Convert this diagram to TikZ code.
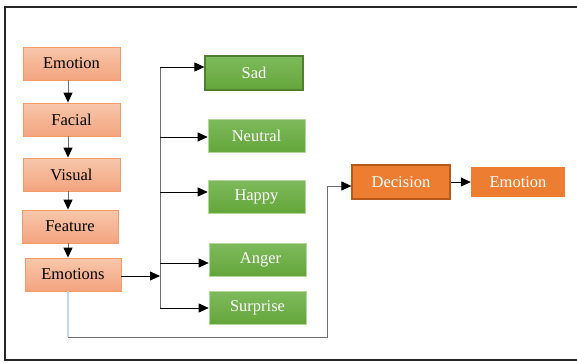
\documentclass[tikz,border=0pt]{standalone}
\usepackage{fontspec}
\setmainfont{Liberation Serif}
\newfontfamily\tnr{Liberation Serif}
\usetikzlibrary{arrows.meta}
\definecolor{salmonT}{HTML}{F8C7AC}
\definecolor{salmonB}{HTML}{F3A47E}
\definecolor{salmonD}{HTML}{F29B66}
\definecolor{greenT}{HTML}{7EBA5C}
\definecolor{greenB}{HTML}{64A63A}
\definecolor{greenD}{HTML}{4F8030}
\definecolor{orangeF}{HTML}{ED7D31}
\definecolor{orangeD}{HTML}{B35A1C}
\definecolor{fbblue}{HTML}{BDD7EE}
\definecolor{linegray}{HTML}{6E6E6E}
\tikzset{
  txt/.style={font=\tnr\fontsize{16.5}{19}\selectfont, inner sep=0pt},
  salmonbox/.style={txt, draw=salmonD, line width=0.8pt, top color=salmonT, bottom color=salmonB, text=black},
  greenbox/.style={txt, draw=greenT!60!white, line width=0.6pt, top color=greenT, bottom color=greenB, text=white},
  orangebox/.style={txt, fill=orangeF, text=white},
  arr/.style={draw=black, line width=0.8pt, -{Triangle[length=10pt,width=9pt]}},
  garr/.style={draw=linegray, line width=1pt, arrows={-{Triangle[length=10pt,width=9pt,color=black]}}},
  conn/.style={draw=linegray, line width=0.9pt}
}
\begin{document}
\begin{tikzpicture}[x=1pt,y=-1pt]
\useasboundingbox (0,0) rectangle (577,362);
% outer frame
\draw[line width=1.8pt, black!85] (580,7) -- (5,7) -- (5,360) -- (580,360);
% left column
\node[salmonbox, minimum width=97pt, minimum height=33pt] (emo) at (71.5,63.5) {Emotion};
\node[salmonbox, minimum width=97pt, minimum height=33pt] (fac) at (71.5,119.5) {Facial};
\node[salmonbox, minimum width=97pt, minimum height=33pt] (vis) at (71.5,174.5) {Visual};
\node[salmonbox, minimum width=96pt, minimum height=33pt] (fea) at (70,226.5) {Feature};
\node[salmonbox, minimum width=96pt, minimum height=33pt] (emos) at (73,274.5) {Emotions};
% green column
\node[greenbox, draw=greenD, line width=1.2pt, minimum width=98pt, minimum height=34pt] (sad) at (254,73) {Sad};
\node[greenbox, minimum width=97pt, minimum height=33pt] (neu) at (256.5,135.5) {Neutral};
\node[greenbox, minimum width=97pt, minimum height=33pt] (hap) at (256.5,196.5) {Happy};
\node[greenbox, minimum width=97pt, minimum height=33pt] (ang) at (257.5,259.5) {\hspace{6pt}Anger};
\node[greenbox, minimum width=97pt, minimum height=33pt] (sur) at (257.5,307.5) {Surprise};
% right
\node[orangebox, draw=orangeD, line width=1.2pt, minimum width=98pt, minimum height=34pt] (dec) at (401,182) {Decision};
\node[orangebox, minimum width=94pt, minimum height=30pt] (emo2) at (518,182) {Emotion};
% vertical chain
\draw[garr] (emo.south -| 68,0) -- (fac.north -| 68,0);
\draw[garr] (fac.south -| 68,0) -- (vis.north -| 68,0);
\draw[garr] (vis.south -| 68,0) -- (fea.north -| 68,0);
\draw[garr] (fea.south -| 68,0) -- (emos.north -| 68,0);
% bus
\coordinate (bus) at (160,276);
\coordinate (bt) at (160,67);
\coordinate (bb) at (160,308);
\coordinate (b2) at (160,137);
\coordinate (b3) at (160,192);
\coordinate (b4) at (160,263);
\draw[arr] (emos.east |- bus) -- (bus);
\draw[conn] (bt) -- (bb);
\draw[arr] (bt) -- (bt -| sad.west);
\draw[arr] (b2) -- (b2 -| neu.west);
\draw[arr] (b3) -- (b3 -| hap.west);
\draw[arr] (b4) -- (b4 -| ang.west);
\draw[arr] (bb) -- (bb -| sur.west);
% feedback
\coordinate (f1) at (68,337);
\coordinate (f2) at (327,337);
\coordinate (f3) at (327,186);
\draw[draw=fbblue, line width=1.2pt] (emos.south -| f1) -- (f1);
\draw[conn] (f1) -- (f2) -- (f3);
\draw[garr] (f3) -- (f3 -| dec.west);
\draw[arr] (dec.east) -- (emo2.west);
\end{tikzpicture}
\end{document}
